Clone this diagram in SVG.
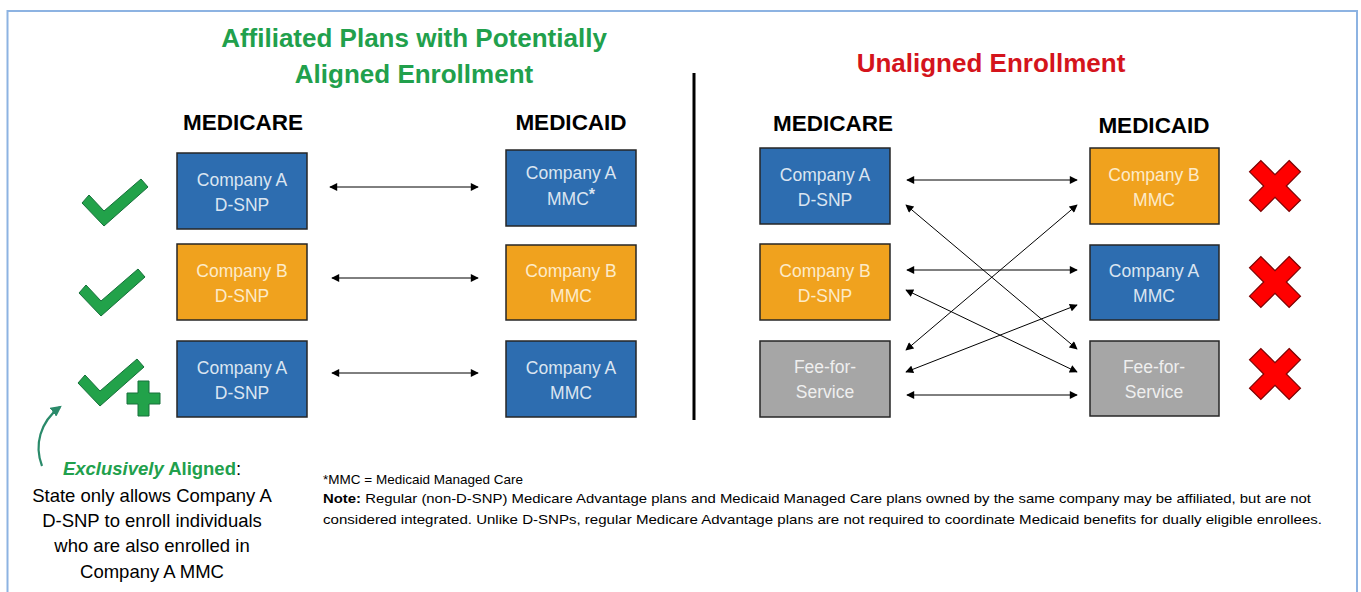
<svg xmlns="http://www.w3.org/2000/svg" width="1361" height="592" viewBox="0 0 1361 592">
<style>
.t{font-family:"Liberation Sans",Arial,sans-serif}
.h{font-family:"Liberation Sans",Arial,sans-serif;font-weight:bold;font-size:26px;text-anchor:middle}
.col{font-family:"Liberation Sans",Arial,sans-serif;font-weight:bold;font-size:22.5px;text-anchor:middle;fill:#000}
.box{stroke:#262626;stroke-width:1.5}
.blue{fill:#2d6db0}.orange{fill:#f0a21e}.gray{fill:#a6a6a6}
.bt{font-family:"Liberation Sans",Arial,sans-serif;font-size:17.5px;text-anchor:middle}
.bl{fill:#dbe5f1}.or{fill:#fdebc9}.gr{fill:#efefef}
.con{stroke:#000;stroke-width:1;fill:none;marker-start:url(#ah);marker-end:url(#ah)}
.chk{fill:#22a24a;stroke:#16703a;stroke-width:1}
.x{fill:#ff0000;stroke:#7a0000;stroke-width:1.2}
.note{font-family:"Liberation Sans",Arial,sans-serif;font-size:13.5px;fill:#000}
.side{font-family:"Liberation Sans",Arial,sans-serif;font-size:18.5px;fill:#000;text-anchor:middle}
</style>
<defs>
<marker id="ah" viewBox="0 0 10 10" refX="9" refY="5" markerWidth="9" markerHeight="8" markerUnits="userSpaceOnUse" orient="auto-start-reverse">
<path d="M0,0 L10,5 L0,10 z" fill="#000"/>
</marker>
<marker id="gh" viewBox="0 0 10 10" refX="8" refY="5" markerWidth="11" markerHeight="11" markerUnits="userSpaceOnUse" orient="auto">
<path d="M0,0 L10,5 L0,10 z" fill="#2a8a6a"/>
</marker>
</defs>
<rect x="0" y="0" width="1361" height="592" fill="#fff"/>
<rect x="7.5" y="11" width="1349.5" height="600" fill="none" stroke="#8db3e2" stroke-width="2"/>

<g id="titles">
<text class="h" x="414" y="47" fill="#21a04c">Affiliated Plans with Potentially</text>
<text class="h" x="414" y="83" fill="#21a04c">Aligned Enrollment</text>
<text class="h" x="991" y="72" fill="#d4141c">Unaligned Enrollment</text>
<text class="col" x="243" y="130">MEDICARE</text>
<text class="col" x="571" y="130">MEDICAID</text>
<text class="col" x="833" y="131">MEDICARE</text>
<text class="col" x="1154" y="133">MEDICAID</text>
</g>

<line x1="694" y1="73" x2="694" y2="420" stroke="#000" stroke-width="3"/>

<g id="connectors">
<line class="con" x1="330" y1="187" x2="478" y2="187"/>
<line class="con" x1="332" y1="278" x2="478" y2="278"/>
<line class="con" x1="332" y1="373" x2="478" y2="373"/>
<line class="con" x1="907" y1="180" x2="1077" y2="180"/>
<line class="con" x1="907" y1="270" x2="1077" y2="270"/>
<line class="con" x1="907" y1="395" x2="1077" y2="395"/>
<line class="con" x1="906" y1="205" x2="1077" y2="349"/>
<line class="con" x1="906" y1="350" x2="1077" y2="205"/>
<line class="con" x1="906" y1="290" x2="1077" y2="372"/>
<line class="con" x1="906" y1="372" x2="1077" y2="305"/>
<path d="M42,466 C34,445 40,422 60,407" fill="none" stroke="#2a8a6a" stroke-width="2.2" marker-end="url(#gh)"/>
</g>

<g id="l-medicare-a">
<rect class="box blue" x="177" y="153" width="130" height="76"/>
<text class="bt bl" x="242" y="186">Company A</text>
<text class="bt bl" x="242" y="211">D-SNP</text>
</g>
<g id="l-medicaid-a">
<rect class="box blue" x="506" y="150" width="130" height="76"/>
<text class="bt bl" x="571" y="179">Company A</text>
<text class="bt bl" x="571" y="205">MMC<tspan font-weight="bold" dy="-5" font-size="16">*</tspan></text>
</g>
<g id="l-medicare-b">
<rect class="box orange" x="177" y="244" width="130" height="76"/>
<text class="bt or" x="242" y="277">Company B</text>
<text class="bt or" x="242" y="302">D-SNP</text>
</g>
<g id="l-medicaid-b">
<rect class="box orange" x="506" y="245" width="130" height="75"/>
<text class="bt or" x="571" y="277">Company B</text>
<text class="bt or" x="571" y="302">MMC</text>
</g>
<g id="l-medicare-a2">
<rect class="box blue" x="177" y="341" width="130" height="76"/>
<text class="bt bl" x="242" y="374">Company A</text>
<text class="bt bl" x="242" y="399">D-SNP</text>
</g>
<g id="l-medicaid-a2">
<rect class="box blue" x="506" y="341" width="130" height="76"/>
<text class="bt bl" x="571" y="374">Company A</text>
<text class="bt bl" x="571" y="399">MMC</text>
</g>

<g id="r-medicare-a">
<rect class="box blue" x="760" y="148" width="130" height="76"/>
<text class="bt bl" x="825" y="181">Company A</text>
<text class="bt bl" x="825" y="206">D-SNP</text>
</g>
<g id="r-medicare-b">
<rect class="box orange" x="760" y="244" width="130" height="76"/>
<text class="bt or" x="825" y="277">Company B</text>
<text class="bt or" x="825" y="302">D-SNP</text>
</g>
<g id="r-medicare-ffs">
<rect class="box gray" x="760" y="341" width="130" height="76"/>
<text class="bt gr" x="825" y="373">Fee-for-</text>
<text class="bt gr" x="825" y="398">Service</text>
</g>
<g id="r-medicaid-b">
<rect class="box orange" x="1090" y="148" width="129" height="76"/>
<text class="bt or" x="1154" y="181">Company B</text>
<text class="bt or" x="1154" y="206">MMC</text>
</g>
<g id="r-medicaid-a">
<rect class="box blue" x="1090" y="245" width="129" height="75"/>
<text class="bt bl" x="1154" y="277">Company A</text>
<text class="bt bl" x="1154" y="302">MMC</text>
</g>
<g id="r-medicaid-ffs">
<rect class="box gray" x="1090" y="341" width="129" height="75"/>
<text class="bt gr" x="1154" y="373">Fee-for-</text>
<text class="bt gr" x="1154" y="398">Service</text>
</g>

<g id="checks">
<polygon class="chk" points="82,203 89,195 104,211 141,179 148,187 104,226"/>
<polygon class="chk" points="79,293 86,285 101,301 138,269 145,277 101,316"/>
<polygon class="chk" points="78,383 85,375 100,391 137,359 144,367 100,406"/>
<polygon class="chk" points="138,381 149,381 149,393 160,393 160,404 149,404 149,416 138,416 138,404 127,404 127,393 138,393"/>
</g>

<g id="crosses">
<path class="x" transform="translate(1275,186) rotate(45)" d="M-8,-28 h16 v20 h20 v16 h-20 v20 h-16 v-20 h-20 v-16 h20z"/>
<path class="x" transform="translate(1275,282) rotate(45)" d="M-8,-28 h16 v20 h20 v16 h-20 v20 h-16 v-20 h-20 v-16 h20z"/>
<path class="x" transform="translate(1275,374) rotate(45)" d="M-8,-28 h16 v20 h20 v16 h-20 v20 h-16 v-20 h-20 v-16 h20z"/>
</g>

<g id="side-note">
<text class="side" x="152" y="475" font-weight="bold"><tspan fill="#21a04c" font-style="italic">Exclusively</tspan><tspan fill="#21a04c"> Aligned</tspan><tspan fill="#000" font-weight="normal">:</tspan></text>
<text class="side" x="152" y="502">State only allows Company A</text>
<text class="side" x="152" y="527">D-SNP to enroll individuals</text>
<text class="side" x="152" y="552">who are also enrolled in</text>
<text class="side" x="152" y="578">Company A MMC</text>
</g>

<g id="footnote">
<text class="note" x="323" y="484">*MMC = Medicaid Managed Care</text>
<text class="note" x="323" y="503" textLength="988" lengthAdjust="spacingAndGlyphs"><tspan font-weight="bold">Note:</tspan> Regular (non-D-SNP) Medicare Advantage plans and Medicaid Managed Care plans owned by the same company may be affiliated, but are not</text>
<text class="note" x="323" y="524" textLength="999" lengthAdjust="spacingAndGlyphs">considered integrated. Unlike D-SNPs, regular Medicare Advantage plans are not required to coordinate Medicaid benefits for dually eligible enrollees.</text>
</g>
</svg>
